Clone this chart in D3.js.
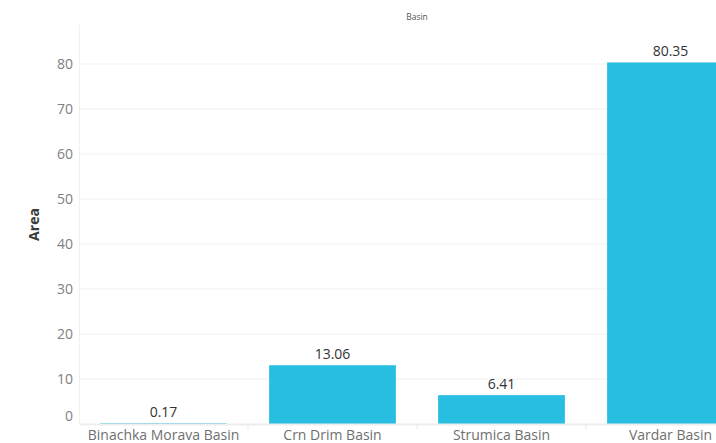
<!DOCTYPE html>
<html><head><meta charset="utf-8">
<script src="https://cdn.jsdelivr.net/npm/d3@7"></script>
<style>body{margin:0;background:#fff;}svg{display:block;font-family:"Open Sans",sans-serif;}</style>
</head><body><svg id="c" width="716" height="443"></svg>
<script>
const categories = ["Binachka Morava Basin","Crn Drim Basin","Strumica Basin","Vardar Basin"];
const values = [0.17, 13.06, 6.41, 80.35];
const yTicks = [0,10,20,30,40,50,60,70,80];
const title = "Basin";
const yTitle = "Area";

(function(){
const svg = d3.select("#c");
const mL = 79, mR = 755, mB = 424;
const yMax = d3.max(values)*1.1;
const mT = mB - yMax*4.5;
const x = d3.scaleBand().domain(categories).range([mL, mR]).paddingInner(0.25).paddingOuter(0.125);
const y = d3.scaleLinear().domain([0, yMax]).range([mB, mT]);

// gridlines
svg.append("g").selectAll("line").data(yTicks.filter(d=>d>0)).join("line")
  .attr("x1", mL).attr("x2", 716).attr("y1", d=>y(d)).attr("y2", d=>y(d))
  .attr("stroke", "#f0f0f0").attr("stroke-width", 1);
// y axis line
svg.append("line").attr("x1", mL+0.5).attr("x2", mL+0.5).attr("y1", 25).attr("y2", mB)
  .attr("stroke", "#f0f0f0");
// bars
svg.append("g").selectAll("rect").data(categories).join("rect")
  .attr("x", d=>x(d)).attr("width", x.bandwidth())
  .attr("y", (d,i)=>y(values[i])).attr("height", (d,i)=>mB - y(values[i]))
  .attr("fill", "#27bee2");
// x axis
const xAxis = svg.append("g").attr("transform", `translate(0,${mB})`)
  .call(d3.axisBottom(x).tickSize(0).tickPadding(8));
xAxis.select(".domain").attr("stroke", "#eeeeee").attr("stroke-width", 2);
xAxis.selectAll("text").attr("font-size", 14).attr("fill", "#707070").attr("font-family", "Open Sans").attr("dy", "0.55em");
// band separator ticks
const seps = categories.slice(1).map(c => x(c) - x.step()*x.paddingInner()/2);
svg.append("g").selectAll("line").data(seps).join("line")
  .attr("x1", d=>d).attr("x2", d=>d).attr("y1", mB).attr("y2", mB+5)
  .attr("stroke", "#e8e8e8");
// y axis labels
const yAxis = svg.append("g").attr("transform", `translate(${mL},0)`)
  .call(d3.axisLeft(y).tickValues(yTicks).tickSize(0).tickPadding(6));
yAxis.select(".domain").remove();
yAxis.selectAll("text").attr("font-size", 14).attr("fill", "#808080").attr("font-family", "Open Sans")
  .attr("dy", d => d === 0 ? "-0.25em" : "0.32em");
// value labels
svg.append("g").selectAll("text").data(categories).join("text")
  .attr("x", d=>x(d)+x.bandwidth()/2).attr("y", (d,i)=>y(values[i]) - 6)
  .attr("text-anchor", "middle").attr("font-size", 14).attr("fill", "#333")
  .text((d,i)=>values[i].toFixed(2));
// title
svg.append("text").attr("x", (mL+mR)/2).attr("y", 20).attr("text-anchor","middle")
  .attr("font-size", 8.5).attr("fill", "#555").text(title);
// y title
svg.append("text").attr("transform", `translate(39,${(25+mB)/2}) rotate(-90)`)
  .attr("text-anchor","middle").attr("font-size", 14).attr("font-weight", "bold").attr("fill", "#3a3a3a")
  .text(yTitle);
})();
</script></body></html>
